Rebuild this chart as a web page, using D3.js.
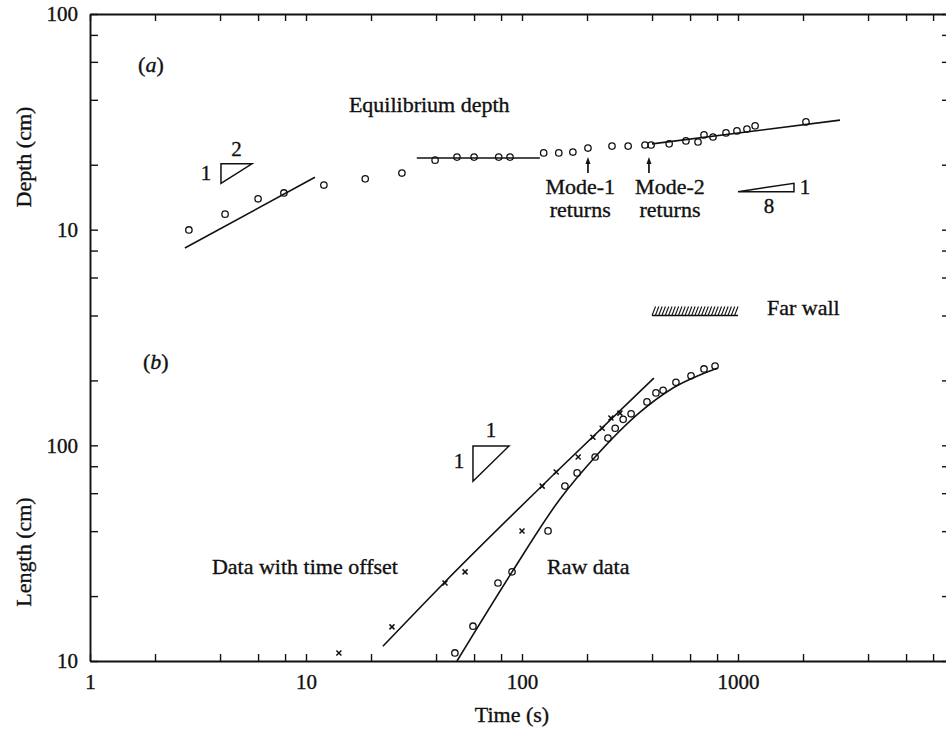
<!DOCTYPE html>
<html>
<head>
<meta charset="utf-8">
<script src="https://cdn.jsdelivr.net/npm/d3@7"></script>
<style>
  body { margin: 0; background: #fff; }
  text { font-family: "Liberation Serif", "Times New Roman", serif; fill: #111; stroke: #111; stroke-width: 0.35px; }
</style>
</head>
<body>
<script>
// ---- data ----

// (a) equilibrium depth against time
const depthTime = [2.87, 4.22, 6.0, 7.9, 12.1, 18.8, 27.8, 39.6, 50, 60, 78, 88, 126, 148, 172,
  202, 261, 310, 371, 396, 480, 574, 653, 696, 766, 880, 989, 1100, 1200, 2064];
const depthCm = [9.97, 11.8, 13.9, 14.8, 16.1, 17.2, 18.3, 21.0, 21.7, 21.7, 21.7, 21.7, 22.7, 22.7, 22.9,
  23.9, 24.4, 24.4, 24.7, 24.7, 25.0, 25.8, 25.5, 27.5, 26.9, 28.1, 28.7, 29.3, 30.3, 31.6];

// fitted lines in (a)
const fitA = [[2.75, 8.22], [11.0, 17.5]];      // slope 1/2
const fitB = [[32.6, 21.5], [121, 21.5]];       // constant depth
const fitC = [[400, 25.0], [2966, 32.2]];       // slope 1/8

// (b) length against time, raw data (circles)
const rawTime = [48.9, 59.3, 77.4, 89.9, 132, 158, 180, 218, 250, 270, 294, 320, 379, 417, 450, 516, 606, 696, 783];
const rawLen = [10.9, 14.5, 23.0, 25.9, 40.1, 64.7, 74.5, 88.3, 108, 120, 132, 140, 159, 175, 180, 196, 210, 226, 233];

// (b) data with time offset (crosses)
const offTime = [14.2, 25.0, 44.0, 54.5, 100, 124, 144, 182, 213, 235, 258, 284];
const offLen = [10.9, 14.4, 23.0, 25.9, 40.1, 64.7, 75.2, 88.3, 109, 120, 134, 141];

// fitted curves in (b)
const rawFitTime = [50, 90, 150, 218, 352, 500, 800];
const rawFitLen = [10, 25.9, 56.4, 88.3, 142.6, 184.5, 228];
const offFitTime = [22.7, 43.5, 144, 408];
const offFitLen = [11.7, 23.0, 75.2, 205];

// mode returns (time of arrowed points)
const modeTimes = [202, 387];
const modeNames = ['Mode-1', 'Mode-2'];

// far wall: length (cm) and time span (s)
const farWallLen = 400;
const farWallSpan = [400, 1000];

// tick labels
const timeDecades = [1, 10, 100, 1000];
const timeLabels = ['1', '10', '100', '1000'];
const leftDecades = [10, 100, 1000, 10000];     // positions on the length scale
const leftLabels = ['10', '100', '10', '100'];  // length 10, 100 ; depth 10, 100

// ---- layout ----
let w = 946,
  h = 730,

  // shared time axis, one long log axis on the left
  x = d3.scaleLog().domain([1, 10000]).range([90, 954]),
  yLen = d3.scaleLog().domain([10, 10000]).range([661, 14]),
  yDep = d3.scaleLog().domain([1, 100]).range([yLen(100), 14]),

  // 1,2,4,6,8 in every decade
  withMinor = decs => decs.flatMap(d => [1, 2, 4, 6, 8].map(m => d * m)),
  xTicks = withMinor([1, 10, 100, 1000]).concat([10000]),
  yTicks = withMinor([10, 100, 1000]).concat([10000]),

  svg = d3.select('body').
  append('svg').
  attr('width', w).
  attr('height', h);

// style an axis group after d3 has drawn it
let styleAxis = g => {
  g.attr('font-family', null).attr('font-size', 21);
  g.select('.domain').attr('stroke', '#111').attr('stroke-width', 1.9);
  g.selectAll('.tick line').attr('stroke', '#111').attr('stroke-width', 1.4);
};

// bottom axis, ticks pointing inwards
svg.append('g').
attr('transform', 'translate(0,' + yLen(10) + ')').
call(d3.axisBottom(x).
tickValues(xTicks).
tickSize(-7).
tickSizeOuter(0).
tickPadding(13).
tickFormat(d => {
  let i = timeDecades.indexOf(d);
  return i < 0 ? '' : timeLabels[i];
})).
call(styleAxis);

// top axis
svg.append('g').
attr('transform', 'translate(0,' + yLen(10000) + ')').
call(d3.axisTop(x).tickValues(xTicks).tickSize(-7).tickSizeOuter(0).tickFormat('')).
call(styleAxis);

// left axis, labels for both panels
svg.append('g').
attr('transform', 'translate(' + x(1) + ',0)').
call(d3.axisLeft(yLen).
tickValues(yTicks).
tickSize(-8).
tickSizeOuter(0).
tickPadding(12).
tickFormat(d => {
  let i = leftDecades.indexOf(d);
  return i < 0 ? '' : leftLabels[i];
})).
call(styleAxis);

// right axis (mostly outside the picture)
svg.append('g').
attr('transform', 'translate(' + x(10000) + ',0)').
call(d3.axisRight(yLen).tickValues(yTicks).tickSize(-12).tickSizeOuter(0).tickFormat('')).
call(styleAxis);

// axis titles
svg.append('text').
attr('x', 512).
attr('y', 722).
attr('text-anchor', 'middle').
attr('font-size', 22).
text('Time (s)');

[['Depth (cm)', 157], ['Length (cm)', 552]].forEach(([t, cy]) => {
  svg.append('text').
  attr('transform', 'translate(31,' + cy + ') rotate(-90)').
  attr('text-anchor', 'middle').
  attr('font-size', 22).
  text(t);
});

// ---- panel (a) ----
let lineDep = d3.line().x(d => x(d[0])).y(d => yDep(d[1]));

svg.selectAll('.fit-a').
data([fitA, fitB, fitC]).
enter().
append('path').
attr('class', 'fit-a').
attr('d', lineDep).
attr('fill', 'none').
attr('stroke', '#111').
attr('stroke-width', 1.6);

svg.selectAll('.pt-a').
data(depthTime.map((t, i) => [t, depthCm[i]])).
enter().
append('circle').
attr('class', 'pt-a').
attr('cx', d => x(d[0])).
attr('cy', d => yDep(d[1])).
attr('r', 3.2).
attr('fill', 'none').
attr('stroke', '#111').
attr('stroke-width', 1.3);

// arrows marking the mode returns
modeTimes.forEach((t, i) => {
  let px = x(t),
    tip = yDep(21.7),
    base = yDep(18.3);
  svg.append('line').
  attr('x1', px).attr('x2', px).
  attr('y1', base).attr('y2', tip + 4).
  attr('stroke', '#111').
  attr('stroke-width', 1.7);
  svg.append('path').
  attr('d', 'M' + px + ',' + tip + 'L' + (px - 2.5) + ',' + (tip + 7) + 'L' + (px + 2.5) + ',' + (tip + 7) + 'Z').
  attr('fill', '#111');
});

// labels under the arrows, centred
[[186, modeNames[0]], [484, modeNames[1]]].forEach(([t, name]) => {
  svg.append('text').
  attr('x', x(t)).attr('y', yDep(14.7)).
  attr('text-anchor', 'middle').
  attr('font-size', 22).
  text(name);
  svg.append('text').
  attr('x', x(t)).attr('y', yDep(11.5)).
  attr('text-anchor', 'middle').
  attr('font-size', 22).
  text('returns');
});

svg.append('text').
attr('x', x(1.67)).attr('y', yDep(53.8)).
attr('font-size', 22).
html('(<tspan font-style="italic">a</tspan>)');

svg.append('text').
attr('x', x(15.8)).attr('y', yDep(35.1)).
attr('font-size', 22).
text('Equilibrium depth');

// slope triangle 1:2
let triA = { t0: 4.04, t1: 5.62, d0: 16.4, d1: 20.2 };
svg.append('path').
attr('d', 'M' + x(triA.t0) + ',' + yDep(triA.d0) +
'L' + x(triA.t0) + ',' + yDep(triA.d1) +
'L' + x(triA.t1) + ',' + yDep(triA.d1) + 'Z').
attr('fill', 'none').
attr('stroke', '#111').
attr('stroke-width', 1.5);
svg.append('text').
attr('x', (x(triA.t0) + x(triA.t1)) / 2).attr('y', yDep(triA.d1) - 8).
attr('text-anchor', 'middle').attr('font-size', 21).text('2');
svg.append('text').
attr('x', x(triA.t0) - 15).attr('y', (yDep(triA.d0) + yDep(triA.d1)) / 2 + 6.5).
attr('text-anchor', 'middle').attr('font-size', 21).text('1');

// slope wedge 1:8
let wedge = { t0: 1000, t1: 1816, d0: 15.0, d1: 16.4 };
svg.append('path').
attr('d', 'M' + x(wedge.t0) + ',' + yDep(wedge.d0) +
'L' + x(wedge.t1) + ',' + yDep(wedge.d0) +
'L' + x(wedge.t1) + ',' + yDep(wedge.d1) + 'Z').
attr('fill', 'none').
attr('stroke', '#111').
attr('stroke-width', 1.5);
svg.append('text').
attr('x', x(wedge.t1) + 11).attr('y', yDep(wedge.d0) + 2).
attr('text-anchor', 'middle').attr('font-size', 21).text('1');
svg.append('text').
attr('x', (x(wedge.t0) + x(wedge.t1)) / 2 + 3).attr('y', yDep(wedge.d0) + 21).
attr('text-anchor', 'middle').attr('font-size', 21).text('8');

// ---- panel (b) ----
let lineLen = d3.line().
x(d => x(d[0])).
y(d => yLen(d[1])).
curve(d3.curveMonotoneX);

svg.selectAll('.fit-b').
data([rawFitTime.map((t, i) => [t, rawFitLen[i]]), offFitTime.map((t, i) => [t, offFitLen[i]])]).
enter().
append('path').
attr('class', 'fit-b').
attr('d', lineLen).
attr('fill', 'none').
attr('stroke', '#111').
attr('stroke-width', 1.6);

svg.selectAll('.pt-raw').
data(rawTime.map((t, i) => [t, rawLen[i]])).
enter().
append('circle').
attr('class', 'pt-raw').
attr('cx', d => x(d[0])).
attr('cy', d => yLen(d[1])).
attr('r', 3.2).
attr('fill', 'none').
attr('stroke', '#111').
attr('stroke-width', 1.3);

svg.selectAll('.pt-off').
data(offTime.map((t, i) => [t, offLen[i]])).
enter().
append('path').
attr('class', 'pt-off').
attr('transform', d => 'translate(' + x(d[0]) + ',' + yLen(d[1]) + ')').
attr('d', 'M-2.5,-2.5L2.5,2.5M-2.5,2.5L2.5,-2.5').
attr('stroke', '#111').
attr('stroke-width', 1.5);

svg.append('text').
attr('x', x(1.76)).attr('y', yLen(226)).
attr('font-size', 22).
html('(<tspan font-style="italic">b</tspan>)');

svg.append('text').
attr('x', x(3.67)).attr('y', yLen(25.3)).
attr('font-size', 22).
text('Data with time offset');

svg.append('text').
attr('x', x(130.6)).attr('y', yLen(25.3)).
attr('font-size', 22).
text('Raw data');

// slope triangle 1:1
let triB = { t0: 59.3, t1: 87.1, l0: 68.2, l1: 99.3 };
svg.append('path').
attr('d', 'M' + x(triB.t0) + ',' + yLen(triB.l0) +
'L' + x(triB.t0) + ',' + yLen(triB.l1) +
'L' + x(triB.t1) + ',' + yLen(triB.l1) + 'Z').
attr('fill', 'none').
attr('stroke', '#111').
attr('stroke-width', 1.5);
svg.append('text').
attr('x', (x(triB.t0) + x(triB.t1)) / 2).attr('y', yLen(triB.l1) - 9).
attr('text-anchor', 'middle').attr('font-size', 21).text('1');
svg.append('text').
attr('x', x(triB.t0) - 14).attr('y', (yLen(triB.l0) + yLen(triB.l1)) / 2 + 4).
attr('text-anchor', 'middle').attr('font-size', 21).text('1');

// far wall: base line with hatching
let wallY = yLen(farWallLen),
  wallX0 = x(farWallSpan[0]),
  wallX1 = x(farWallSpan[1]);
svg.append('line').
attr('x1', wallX0).attr('x2', wallX1).
attr('y1', wallY).attr('y2', wallY).
attr('stroke', '#111').
attr('stroke-width', 1.5);
svg.selectAll('.hatch').
data(d3.range(wallX0, wallX1 - 3, 3.3)).
enter().
append('line').
attr('class', 'hatch').
attr('x1', d => d).attr('y1', wallY).
attr('x2', d => d + 3.5).attr('y2', wallY - 9).
attr('stroke', '#111').
attr('stroke-width', 1.1);

svg.append('text').
attr('x', x(1362)).attr('y', wallY).
attr('font-size', 22).
text('Far wall');
</script>
</body>
</html>
